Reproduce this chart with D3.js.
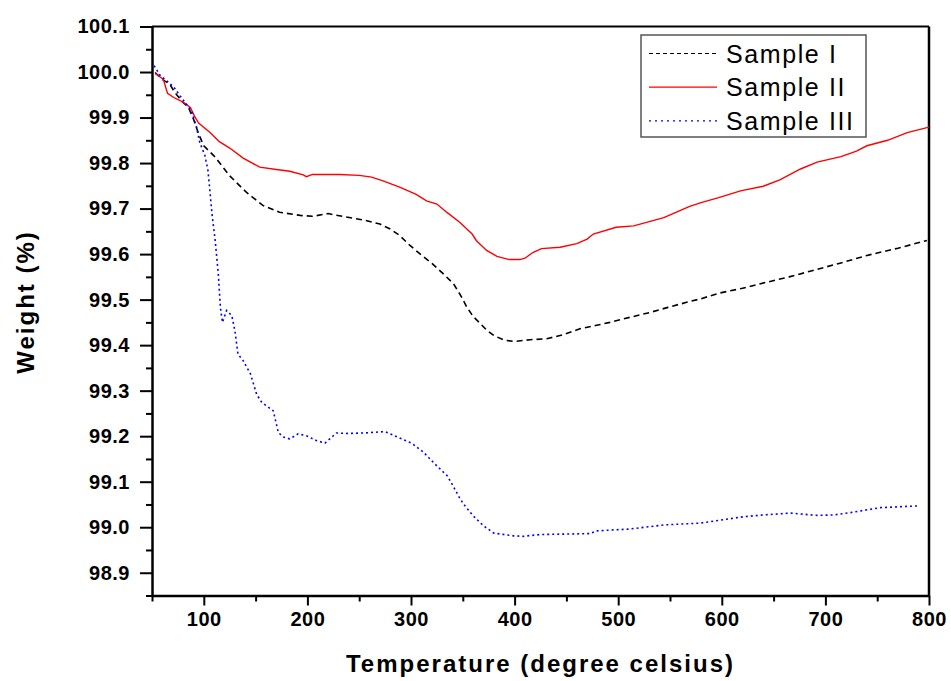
<!DOCTYPE html>
<html>
<head>
<meta charset="utf-8">
<script src="https://cdn.jsdelivr.net/npm/d3@7"></script>
<style>
  body { margin: 0; background: #fff; }
  svg { display: block; font-family: Arial, "Liberation Sans", sans-serif; }
  .tick text { font-size: 20px; font-weight: bold; fill: #000; letter-spacing: 0.5px; }
  .axis path, .axis line { stroke: #000; }
</style>
</head>
<body>
<svg id="chart" width="951" height="681"></svg>
<script>
// Sample I (black, dashed)
const tempI = [53, 61, 67, 72, 80, 85, 90, 95, 100, 111, 125, 141, 157, 173, 193, 205, 220, 236, 254, 270, 280, 289, 299, 310, 321, 331, 341, 348, 354, 360, 367, 373, 380, 390, 400, 415, 431, 447, 463, 478, 492, 511, 531, 548, 566, 580, 597, 620, 643, 665, 688, 714, 740, 770, 798];
const weightI = [99.999, 99.982, 99.974, 99.955, 99.933, 99.923, 99.897, 99.864, 99.838, 99.813, 99.772, 99.736, 99.707, 99.692, 99.685, 99.683, 99.689, 99.682, 99.675, 99.666, 99.655, 99.641, 99.619, 99.598, 99.578, 99.557, 99.535, 99.509, 99.483, 99.463, 99.447, 99.433, 99.421, 99.411, 99.408, 99.412, 99.414, 99.423, 99.436, 99.443, 99.450, 99.461, 99.472, 99.483, 99.494, 99.502, 99.514, 99.525, 99.538, 99.550, 99.564, 99.580, 99.597, 99.613, 99.630];

// Sample II (red, solid)
const tempII = [53, 61, 63, 65, 71, 80, 87, 91, 95, 106, 115, 125, 138, 154, 170, 183, 196, 199, 205, 231, 250, 262, 273, 289, 305, 315, 325, 335, 347, 359, 363, 373, 383, 395, 405, 410, 418, 426, 444, 460, 470, 476, 498, 515, 544, 569, 580, 597, 618, 640, 656, 676, 692, 715, 730, 740, 760, 779, 800];
const weightII = [99.997, 99.984, 99.968, 99.953, 99.944, 99.934, 99.922, 99.903, 99.888, 99.867, 99.847, 99.833, 99.811, 99.791, 99.786, 99.782, 99.774, 99.770, 99.775, 99.775, 99.773, 99.769, 99.761, 99.747, 99.731, 99.717, 99.710, 99.691, 99.670, 99.644, 99.630, 99.608, 99.595, 99.588, 99.588, 99.591, 99.604, 99.612, 99.615, 99.623, 99.633, 99.644, 99.659, 99.662, 99.680, 99.705, 99.713, 99.724, 99.739, 99.749, 99.763, 99.787, 99.802, 99.814, 99.826, 99.838, 99.850, 99.867, 99.879];

// Sample III (blue, dotted)
const tempIII = [52, 58, 62, 71, 77, 83, 88, 93, 96, 101, 104, 106, 108, 111, 114, 116, 118, 122, 127, 130, 133, 138, 145, 151, 156, 167, 172, 177, 183, 191, 199, 209, 217, 228, 238, 254, 275, 289, 301, 312, 323, 335, 341, 347, 351, 360, 370, 380, 399, 408, 425, 450, 473, 479, 511, 544, 579, 621, 640, 666, 692, 708, 724, 753, 791];
const weightIII = [100.014, 99.992, 99.985, 99.967, 99.948, 99.930, 99.915, 99.879, 99.846, 99.817, 99.784, 99.736, 99.686, 99.630, 99.556, 99.483, 99.450, 99.476, 99.465, 99.432, 99.380, 99.366, 99.337, 99.292, 99.274, 99.256, 99.208, 99.198, 99.194, 99.205, 99.201, 99.190, 99.185, 99.207, 99.206, 99.207, 99.210, 99.196, 99.184, 99.165, 99.139, 99.113, 99.089, 99.064, 99.050, 99.025, 99.003, 98.987, 98.981, 98.980, 98.984, 98.985, 98.986, 98.992, 98.996, 99.005, 99.009, 99.023, 99.027, 99.031, 99.026, 99.027, 99.032, 99.043, 99.047];

const seriesNames = ['Sample I', 'Sample II', 'Sample III'];
const xMajor = [100, 200, 300, 400, 500, 600, 700, 800];
const xMinor = [50, 150, 250, 350, 450, 550, 650, 750];
const yMajor = [98.9, 99.0, 99.1, 99.2, 99.3, 99.4, 99.5, 99.6, 99.7, 99.8, 99.9, 100.0, 100.1];
const yMinor = [98.85, 98.95, 99.05, 99.15, 99.25, 99.35, 99.45, 99.55, 99.65, 99.75, 99.85, 99.95, 100.05];

const plotLeft = 152, plotRight = 929, plotTop = 26.5, plotBottom = 595.5;

const svg = d3.select('#chart');

const x = d3.scaleLinear().domain([50, 800]).range([plotLeft, plotRight]);
const y = d3.scaleLinear().domain([98.85, 100.1]).range([plotBottom, plotTop]);

const zip = (ts, ws) => ts.map((t, i) => ({t, w: ws[i]}));
const series = [
  {name: seriesNames[0], data: zip(tempI, weightI), color: '#000', dash: '6,4', width: 1.6, legendDash: '4,3'},
  {name: seriesNames[1], data: zip(tempII, weightII), color: '#ff0000', dash: null, width: 1.4, legendDash: null},
  {name: seriesNames[2], data: zip(tempIII, weightIII), color: '#0000ff', dash: '2,3', width: 1.6, legendDash: '2,4'}
];

// frame top / right
svg.append('line')
  .attr('x1', plotLeft).attr('x2', plotRight).attr('y1', plotTop).attr('y2', plotTop)
  .attr('stroke', '#000').attr('stroke-width', 2);
svg.append('line')
  .attr('x1', plotRight).attr('x2', plotRight).attr('y1', plotTop).attr('y2', plotBottom)
  .attr('stroke', '#000').attr('stroke-width', 2.5);

// minor ticks
svg.append('g')
  .attr('class', 'axis')
  .attr('transform', `translate(0, ${plotBottom})`)
  .call(d3.axisBottom(x).tickValues(xMinor).tickSize(6).tickFormat('').tickSizeOuter(0))
  .call(g => g.selectAll('line').attr('stroke-width', 2))
  .call(g => g.select('.domain').remove());

svg.append('g')
  .attr('class', 'axis')
  .attr('transform', `translate(${plotLeft}, 0)`)
  .call(d3.axisLeft(y).tickValues(yMinor).tickSize(6).tickFormat('').tickSizeOuter(0))
  .call(g => g.selectAll('line').attr('stroke-width', 2))
  .call(g => g.select('.domain').remove());

// major axes
svg.append('g')
  .attr('class', 'axis')
  .attr('transform', `translate(0, ${plotBottom})`)
  .call(d3.axisBottom(x).tickValues(xMajor).tickSize(10).tickPadding(6).tickSizeOuter(0).tickFormat(d3.format('d')))
  .call(g => g.selectAll('line').attr('stroke-width', 2))
  .call(g => g.select('.domain').attr('stroke-width', 2.5));

svg.append('g')
  .attr('class', 'axis')
  .attr('transform', `translate(${plotLeft}, 0)`)
  .call(d3.axisLeft(y).tickValues(yMajor).tickSize(12).tickPadding(10).tickSizeOuter(0).tickFormat(d3.format('.1f')))
  .call(g => g.selectAll('line').attr('stroke-width', 2))
  .call(g => g.select('.domain').attr('stroke-width', 2.5));

// curves
const line = d3.line().x(d => x(d.t)).y(d => y(d.w));

svg.append('g')
  .selectAll('path')
  .data(series)
  .join('path')
  .attr('d', d => line(d.data))
  .attr('fill', 'none')
  .attr('stroke', d => d.color)
  .attr('stroke-width', d => d.width)
  .attr('stroke-dasharray', d => d.dash);

// axis titles
svg.append('text')
  .attr('x', (plotLeft + plotRight) / 2)
  .attr('y', 672)
  .attr('text-anchor', 'middle')
  .style('font-size', '24px')
  .style('font-weight', 'bold')
  .style('letter-spacing', '2px')
  .text('Temperature (degree celsius)');

svg.append('text')
  .attr('transform', 'translate(34, 302) rotate(-90)')
  .attr('text-anchor', 'middle')
  .style('font-size', '24px')
  .style('font-weight', 'bold')
  .style('letter-spacing', '2px')
  .text('Weight (%)');

// legend
const legend = svg.append('g');
legend.append('rect')
  .attr('x', 641).attr('y', 35)
  .attr('width', 225).attr('height', 102)
  .attr('fill', '#fff')
  .attr('stroke', '#555')
  .attr('stroke-width', 1.5);

const rows = legend.selectAll('g.row')
  .data(series)
  .join('g')
  .attr('class', 'row')
  .attr('transform', (d, i) => `translate(0, ${53.5 + i * 33.7})`);

rows.append('line')
  .attr('x1', 649).attr('x2', 717)
  .attr('stroke', d => d.color)
  .attr('stroke-width', 1.2)
  .attr('stroke-dasharray', d => d.legendDash);

rows.append('text')
  .attr('x', 726)
  .attr('y', 9)
  .style('font-size', '25px')
  .style('letter-spacing', '1.6px')
  .text(d => d.name);
</script>
</body>
</html>
